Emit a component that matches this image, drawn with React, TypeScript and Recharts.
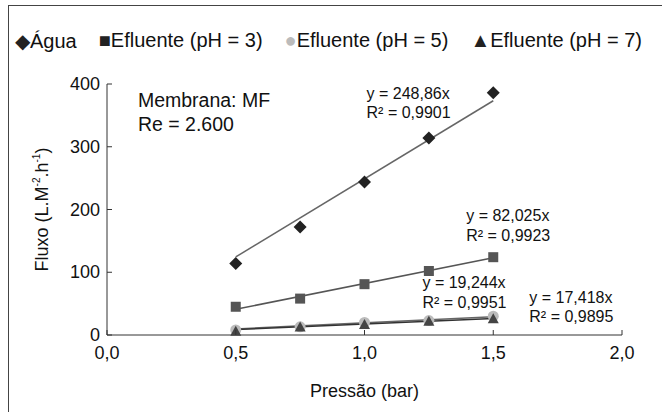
import React from "react";
import {
  ComposedChart,
  Line,
  ReferenceDot,
  Scatter,
  XAxis,
  YAxis,
} from "recharts";

// pressão (bar) e fluxo medido
const pressures = [0.5, 0.75, 1.0, 1.25, 1.5];
const agua = [114, 172, 244, 314, 386];
const ph3 = [45, 58, 81, 102, 124];
const ph5 = [8, 13, 20, 23, 30];
const ph7 = [5, 12, 16, 21, 25];

// linhas de tendência (extremos)
const trendX = [0.5, 1.5];
const aguaTrend = [124.4, 373.3];
const ph3Trend = [41.0, 123.0];
const ph5Trend = [9.6, 28.9];
const ph7Trend = [8.7, 26.1];

const xTicks = [0, 0.5, 1, 1.5, 2];
const yTicks = [0, 100, 200, 300, 400];

const legendItems = [
  { symbol: "◆", label: "Água", color: "#222" },
  { symbol: "■", label: "Efluente (pH = 3)", color: "#222" },
  { symbol: "●", label: "Efluente (pH = 5)", color: "#bbb" },
  { symbol: "▲", label: "Efluente (pH = 7)", color: "#222" },
];

const FONT = "'Liberation Sans', Arial, Helvetica, sans-serif";

if (typeof document !== "undefined") document.body.style.margin = "0";

const toPoints = (vals: number[], xs: number[]) =>
  vals.map((v, i) => ({ x: xs[i], y: v }));

const Diamond = ({ cx, cy }: any) => (
  <path
    d={`M${cx},${cy - 6.5}L${cx + 6.5},${cy}L${cx},${cy + 6.5}L${cx - 6.5},${cy}Z`}
    fill="#222"
  />
);
const Square = ({ cx, cy }: any) => (
  <rect x={cx - 5} y={cy - 5} width={10} height={10} fill="#555" />
);
const Dot = ({ cx, cy }: any) => <circle cx={cx} cy={cy} r={5.5} fill="#bbb" />;
const Tri = ({ cx, cy }: any) => (
  <path d={`M${cx},${cy - 6}L${cx + 5.5},${cy + 4}L${cx - 5.5},${cy + 4}Z`} fill="#444" />
);

const XTick = ({ x, y, payload }: any) => (
  <g>
    <line x1={x} y1={y} x2={x} y2={y - 5} stroke="#333" />
    <text
      x={x}
      y={y + 18}
      textAnchor="middle"
      dominantBaseline="central"
      fontSize={18}
      fontFamily={FONT}
      fill="#111"
    >
      {Number(payload.value).toFixed(1).replace(".", ",")}
    </text>
  </g>
);

const YTick = ({ x, y, payload }: any) => (
  <g>
    <line x1={x} y1={y} x2={x + 5} y2={y} stroke="#333" />
    <text
      x={x - 7}
      y={y}
      textAnchor="end"
      dominantBaseline="central"
      fontSize={18}
      fontFamily={FONT}
      fill="#111"
    >
      {payload.value}
    </text>
  </g>
);

const TextBlock = (lines: string[], size: number, gap: number) => (props: any) => {
  const { x, y } = props.viewBox;
  return (
    <g>
      {lines.map((t, i) => (
        <text
          key={i}
          x={x}
          y={y + i * gap}
          dominantBaseline="central"
          fontSize={size}
          fontFamily={FONT}
          fill="#111"
        >
          {t}
        </text>
      ))}
    </g>
  );
};

const YLabel = ({ viewBox }: any) => {
  const cx = 42;
  const cy = viewBox.y + viewBox.height / 2;
  return (
    <text
      x={cx}
      y={cy}
      transform={`rotate(-90 ${cx} ${cy})`}
      textAnchor="middle"
      dominantBaseline="central"
      fontSize={18}
      fontFamily={FONT}
      fill="#111"
    >
      Fluxo (L.M
      <tspan fontSize={10} dy={-6}>-2</tspan>
      <tspan dy={6}>.h</tspan>
      <tspan fontSize={10} dy={-6}>-1</tspan>
      <tspan dy={6}>)</tspan>
    </text>
  );
};

export default function App() {
  return (
    <div
      style={{
        position: "relative",
        width: 662,
        height: 412,
        overflow: "hidden",
        background: "#fff",
        fontFamily: FONT,
      }}
    >
      <div
        style={{
          position: "absolute",
          left: 8,
          top: 5,
          width: 700,
          height: 500,
          borderLeft: "1px solid #444",
          borderTop: "1px solid #444",
        }}
      />
      <div
        style={{
          position: "absolute",
          left: 15,
          top: 29,
          display: "flex",
          gap: 22,
          fontSize: 20,
          color: "#111",
          whiteSpace: "nowrap",
        }}
      >
        {legendItems.map((it) => (
          <span key={it.label}>
            <span style={{ color: it.color }}>{it.symbol}</span>
            {it.label}
          </span>
        ))}
      </div>
      <ComposedChart
        width={662}
        height={412}
        margin={{ top: 84, right: 40, left: 0, bottom: 0 }}
        style={{ position: "absolute", left: 0, top: 0 }}
      >
        <XAxis
          type="number"
          dataKey="x"
          domain={[0, 2]}
          ticks={xTicks}
          allowDataOverflow
          height={77}
          tickSize={0}
          tickMargin={0}
          tickLine={false}
          tick={<XTick />}
          axisLine={{ stroke: "#333" }}
          label={{
            value: "Pressão (bar)",
            position: "insideBottom",
            offset: 15,
            fontSize: 18,
            fontFamily: FONT,
            fill: "#111",
          }}
        />
        <YAxis
          type="number"
          dataKey="y"
          domain={[0, 400]}
          ticks={yTicks}
          width={107}
          tickSize={0}
          tickMargin={0}
          tickLine={false}
          tick={<YTick />}
          axisLine={{ stroke: "#333" }}
          label={<YLabel />}
        />
        <Scatter data={toPoints(agua, pressures)} dataKey="y" shape={<Diamond />} isAnimationActive={false} />
        <Scatter data={toPoints(ph3, pressures)} dataKey="y" shape={<Square />} isAnimationActive={false} />
        <Scatter data={toPoints(ph5, pressures)} dataKey="y" shape={<Dot />} isAnimationActive={false} />
        <Scatter data={toPoints(ph7, pressures)} dataKey="y" shape={<Tri />} isAnimationActive={false} />
        <Line data={toPoints(aguaTrend, trendX)} dataKey="y" stroke="#666" strokeWidth={1.5} dot={false} isAnimationActive={false} />
        <Line data={toPoints(ph3Trend, trendX)} dataKey="y" stroke="#555" strokeWidth={1.5} dot={false} isAnimationActive={false} />
        <Line data={toPoints(ph5Trend, trendX)} dataKey="y" stroke="#666" strokeWidth={1.5} dot={false} isAnimationActive={false} />
        <Line data={toPoints(ph7Trend, trendX)} dataKey="y" stroke="#333" strokeWidth={1.5} dot={false} isAnimationActive={false} />
        <ReferenceDot x={0.12} y={374.5} r={0} ifOverflow="visible" label={TextBlock(["Membrana: MF", "Re = 2.600"], 19.5, 24)} />
        <ReferenceDot x={1.008} y={385.6} r={0} ifOverflow="visible" label={TextBlock(["y = 248,86x", "R² = 0,9901"], 16, 19)} />
        <ReferenceDot x={1.395} y={191.2} r={0} ifOverflow="visible" label={TextBlock(["y = 82,025x", "R² = 0,9923"], 16, 20)} />
        <ReferenceDot x={1.225} y={82.9} r={0} ifOverflow="visible" label={TextBlock(["y = 19,244x", "R² = 0,9951"], 16, 20)} />
        <ReferenceDot x={1.64} y={59} r={0} ifOverflow="visible" label={TextBlock(["y = 17,418x", "R² = 0,9895"], 16, 19)} />
      </ComposedChart>
    </div>
  );
}
